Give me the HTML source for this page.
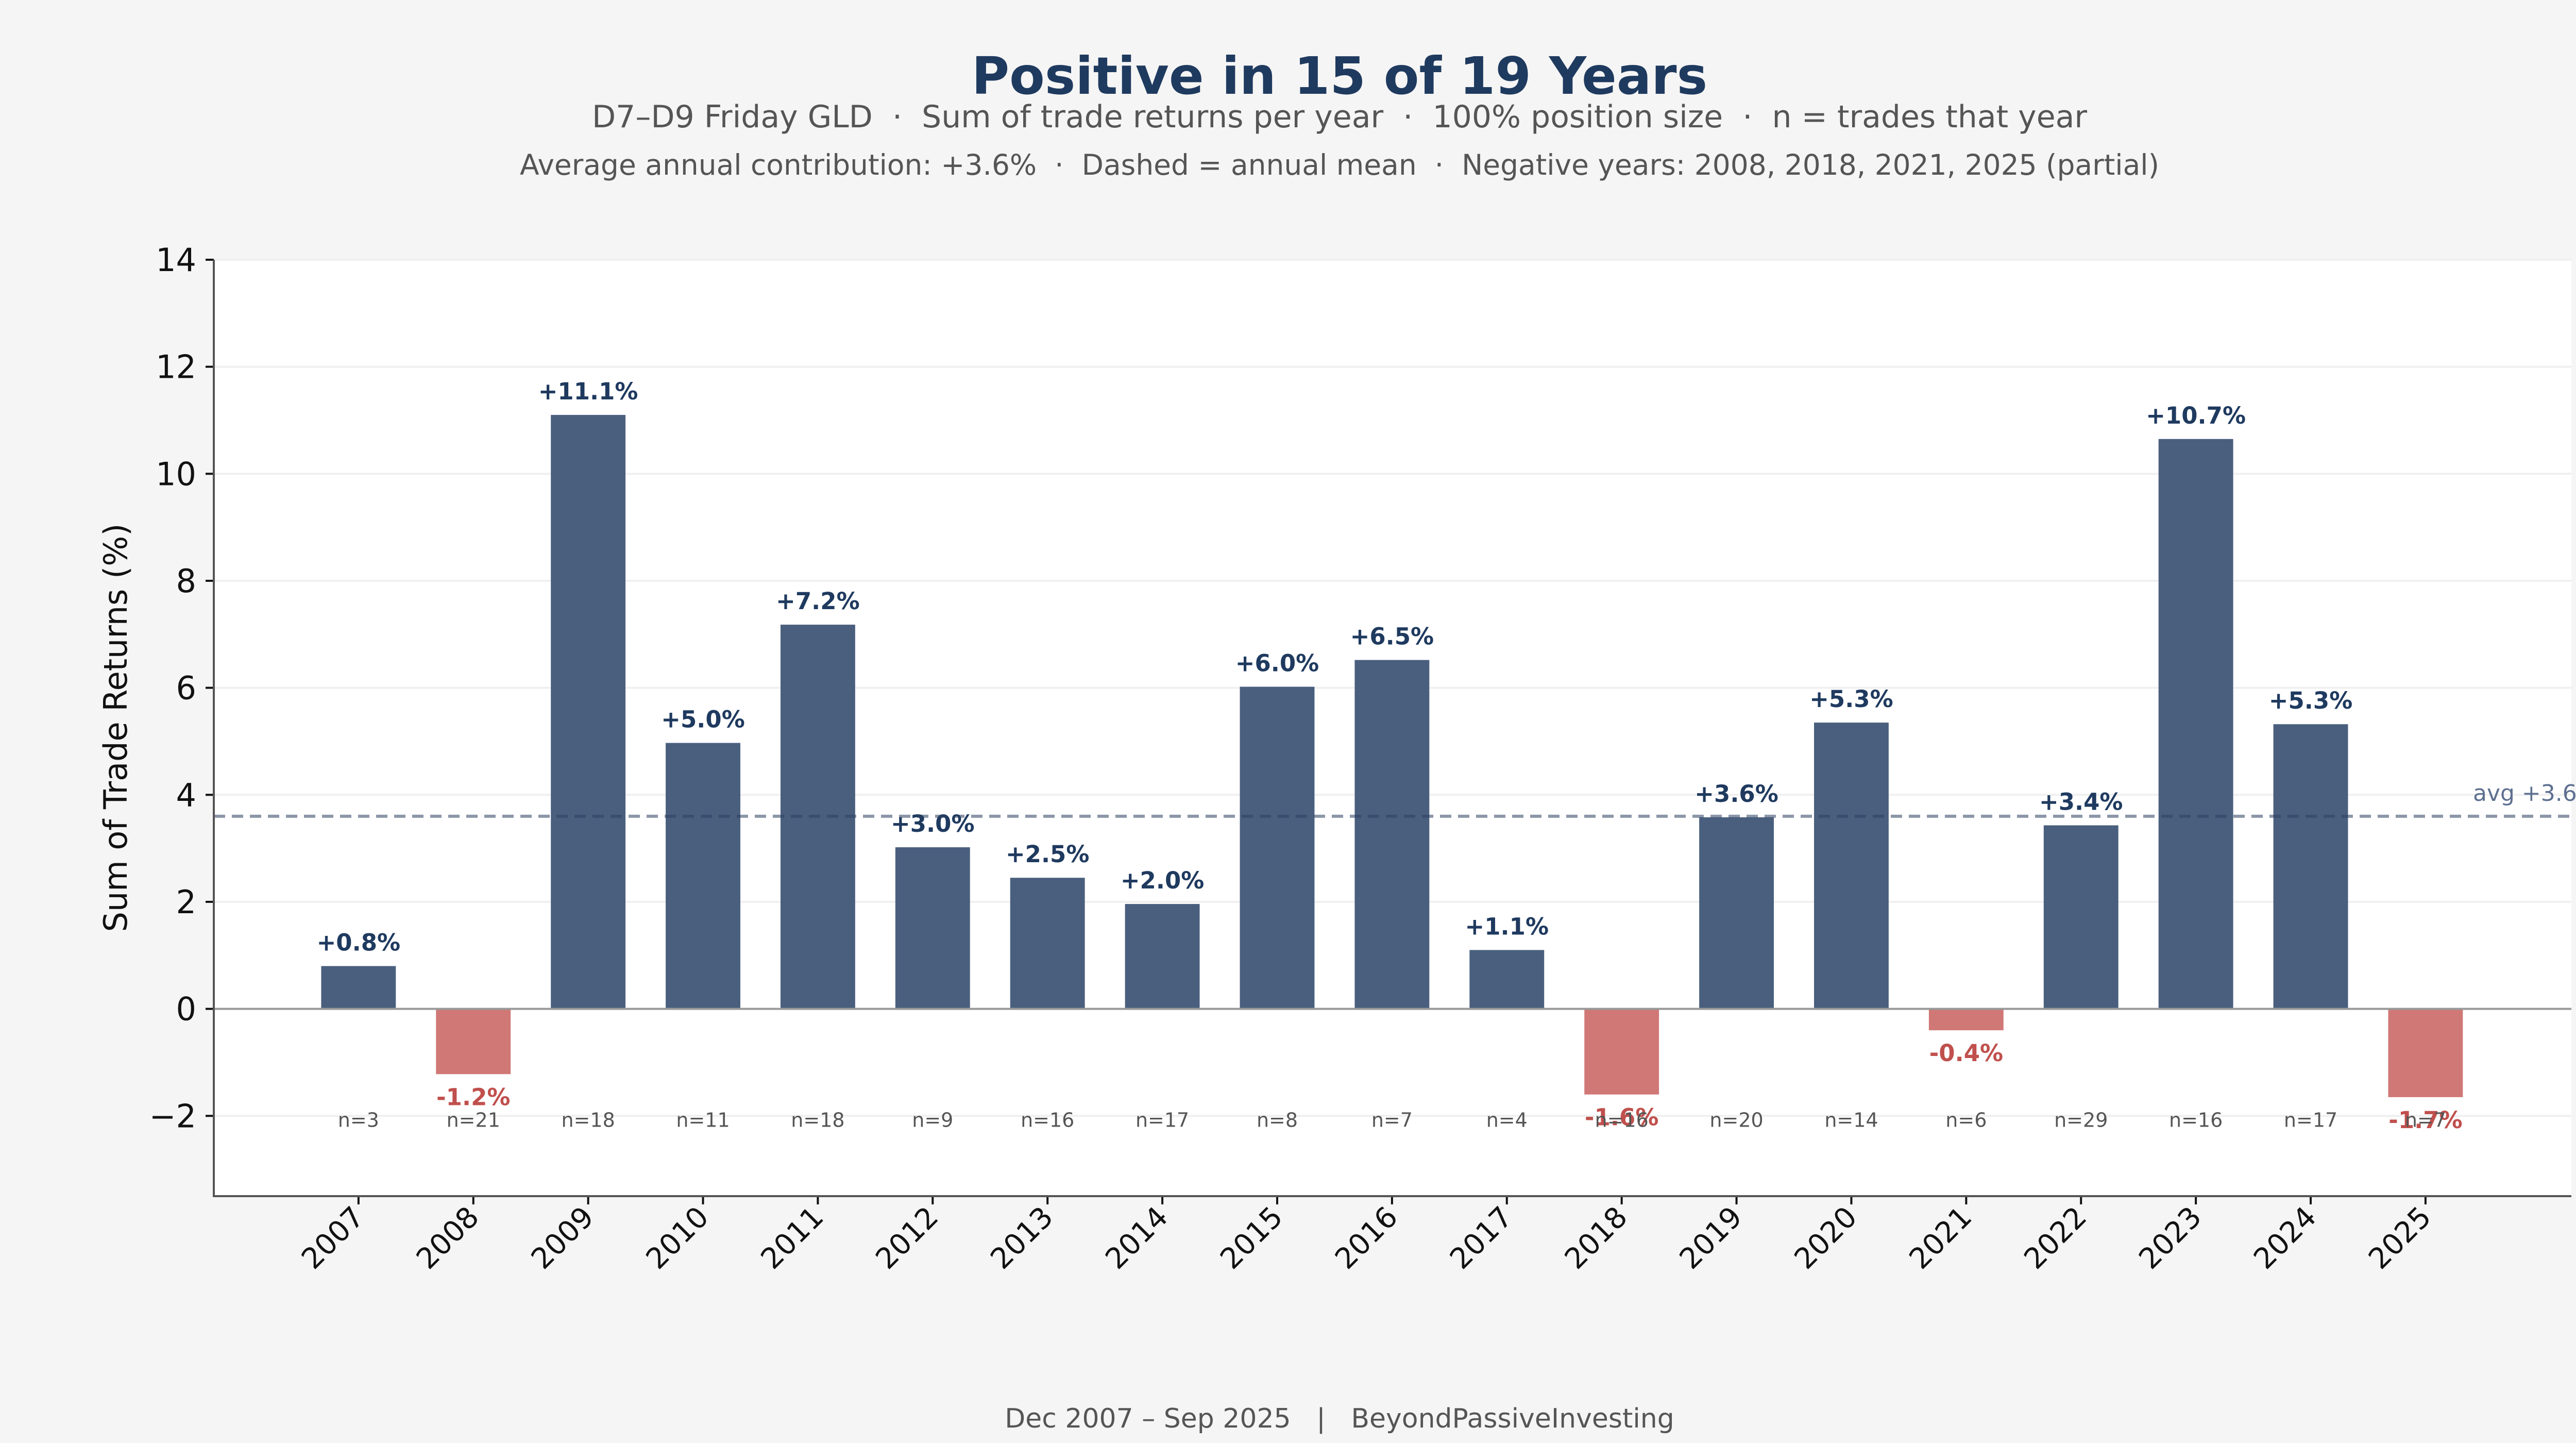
<!DOCTYPE html>
<html><head><meta charset="utf-8">
<style>
html,body{margin:0;padding:0;background:#f5f5f5;overflow:hidden;}
svg{display:block;font-family:"DejaVu Sans","Liberation Sans",sans-serif;}
text{white-space:pre;}
</style></head>
<body>
<svg id="chart" xmlns="http://www.w3.org/2000/svg" width="5200" height="2800" viewBox="0 0 5200 2800" xml:space="preserve">
<rect width="5200" height="2800" fill="#f5f5f5"/>
<text x="2600" y="182" text-anchor="middle" font-size="100" font-weight="bold" fill="#1f3a5f">Positive in 15 of 19 Years</text>
<text x="2600" y="247" text-anchor="middle" font-size="60" fill="#555">D7–D9 Friday GLD  ·  Sum of trade returns per year  ·  100% position size  ·  n = trades that year</text>
<text x="2600" y="339" text-anchor="middle" font-size="55" fill="#555">Average annual contribution: +3.6%  ·  Dashed = annual mean  ·  Negative years: 2008, 2018, 2021, 2025 (partial)</text>
<rect x="415" y="504" width="4576" height="1817" fill="#ffffff"/>
<g id="grid"></g>
<g id="bars"></g>
<g id="labels"></g>
<g id="axes"></g>
<text transform="translate(246,1412) rotate(-90)" text-anchor="middle" font-size="62" fill="#111">Sum of Trade Returns (%)</text>
<text x="2600" y="2770" text-anchor="middle" font-size="52" fill="#555">Dec 2007 – Sep 2025   |   BeyondPassiveInvesting</text>
</svg>
<script>
const years = ["2007","2008","2009","2010","2011","2012","2013","2014","2015","2016","2017","2018","2019","2020","2021","2022","2023","2024","2025"];
const returns = [0.8,-1.22,11.1,4.97,7.18,3.02,2.45,1.96,6.02,6.52,1.1,-1.6,3.58,5.35,-0.4,3.43,10.65,5.32,-1.65];
const returnLabels = ["+0.8%","-1.2%","+11.1%","+5.0%","+7.2%","+3.0%","+2.5%","+2.0%","+6.0%","+6.5%","+1.1%","-1.6%","+3.6%","+5.3%","-0.4%","+3.4%","+10.7%","+5.3%","-1.7%"];
const trades = [3,21,18,11,18,9,16,17,8,7,4,16,20,14,6,29,16,17,7];
const yTicks = [-2,0,2,4,6,8,10,12,14];
const meanValue = 3.6;
const meanLabel = "avg +3.6%";

const NS="http://www.w3.org/2000/svg";
const L=415,R=4991,T=504,B=2321;
const xMin=-1.26,xMax=19.27,yMin=-3.5,yMax=14;
const xs=i=>L+(i-xMin)/(xMax-xMin)*(R-L);
const ys=v=>B-(v-yMin)/(yMax-yMin)*(B-T);
const bw=0.65*(R-L)/(xMax-xMin);
function mk(tag,attrs,parent,txt){const e=document.createElementNS(NS,tag);for(const k in attrs)e.setAttribute(k,attrs[k]);if(txt!==undefined)e.textContent=txt;parent.appendChild(e);return e;}
const grid=document.getElementById('grid'),bars=document.getElementById('bars'),labels=document.getElementById('labels'),axes=document.getElementById('axes');
yTicks.forEach(v=>{
  const g=mk('line',{x1:L,x2:R,y1:ys(v),y2:ys(v),stroke:'#f0f0f0','stroke-width':4},grid);
  
  
  const t=mk('line',{x1:L-16,x2:L,y1:ys(v),y2:ys(v),stroke:'#111','stroke-width':4},axes);
  
  
  const lab=mk('text',{x:L-34,y:ys(v)+22,'text-anchor':'end','font-size':62,fill:'#111'},axes,v<0?'\u2212'+Math.abs(v):String(v));
  
  
});
returns.forEach((v,i)=>{
  const cx=xs(i),y0=ys(0),y1=ys(v);
  const r=mk('rect',{x:cx-bw/2,y:Math.min(y0,y1),width:bw,height:Math.abs(y1-y0),fill:v>=0?'#4a5f7e':'#d07876'},bars);
  
  
  const lt=mk('text',{x:cx,y:v>=0?y1-30:y1+60,'text-anchor':'middle','font-size':45,'font-weight':'bold',fill:v>=0?'#1f3a5f':'#c0504d'},labels,returnLabels[i]);
  
  
  const nt=mk('text',{x:cx,y:ys(-2.07)+14,'text-anchor':'middle','font-size':38,fill:'#555'},labels,'n='+trades[i]);
  
  
  const tk=mk('line',{x1:cx,x2:cx,y1:B,y2:B+16,stroke:'#111','stroke-width':4},axes);
  
  
  const xl=mk('text',{transform:`translate(${cx+14},${B+44}) rotate(-45)`,'text-anchor':'end','font-size':56,fill:'#111'},axes,years[i]);
  
  
});
const zl=mk('line',{x1:L,x2:R,y1:ys(0),y2:ys(0),stroke:'#999','stroke-width':4},axes);


const ml=mk('line',{x1:L,x2:R,y1:ys(meanValue),y2:ys(meanValue),stroke:'#2c4060','stroke-opacity':0.55,'stroke-width':6,'stroke-dasharray':'22,13'},axes);


const mt=mk('text',{x:4800,y:ys(meanValue)-30,'font-size':44,fill:'#5e7090'},axes,meanLabel);


const sl=mk('line',{x1:L,x2:L,y1:T,y2:B+2,stroke:'#555','stroke-width':4},axes);


const sb=mk('line',{x1:L-2,x2:R,y1:B,y2:B,stroke:'#555','stroke-width':4},axes);


</script>
</body></html>
